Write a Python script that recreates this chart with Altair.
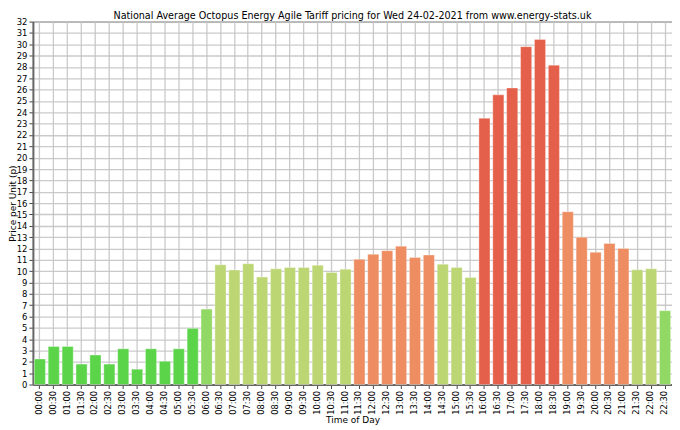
import altair as alt
import pandas as pd

times = ["00:00","00:30","01:00","01:30","02:00","02:30","03:00","03:30","04:00","04:30",
         "05:00","05:30","06:00","06:30","07:00","07:30","08:00","08:30","09:00","09:30",
         "10:00","10:30","11:00","11:30","12:00","12:30","13:00","13:30","14:00","14:30",
         "15:00","15:30","16:00","16:30","17:00","17:30","18:00","18:30","19:00","19:30",
         "20:00","20:30","21:00","21:30","22:00","22:30"]
prices = [2.25, 3.35, 3.35, 1.8, 2.6, 1.8, 3.15, 1.35, 3.15, 2.05,
          3.15, 4.95, 6.65, 10.55, 10.1, 10.65, 9.47, 10.2, 10.31, 10.31,
          10.52, 9.88, 10.17, 11.04, 11.48, 11.8, 12.2, 11.19, 11.42, 10.61,
          10.31, 9.44, 23.48, 25.54, 26.15, 29.79, 30.43, 28.16, 15.23, 12.99,
          11.66, 12.44, 12.0, 10.11, 10.2, 6.51]
title_text = "National Average Octopus Energy Agile Tariff pricing for Wed 24-02-2021 from www.energy-stats.uk"

band_limits = [5, 7, 11, 16]
band_colors = ["#5bd44a", "#91d964", "#bcd673", "#ee8d62", "#e5604a"]
y_ticks = list(range(0, 33))

df = pd.DataFrame({"time": times, "price": prices})

font = "DejaVu Sans"
title_font = "DejaVu Sans Condensed, DejaVu Sans"
W = 641
H = 364

bars = alt.Chart(df).mark_bar(strokeWidth=1, strokeOpacity=0.35, stroke="white").encode(
    x=alt.X("time:N", sort=None, title="Time of Day",
            scale=alt.Scale(paddingInner=0.2, paddingOuter=0.1),
            axis=alt.Axis(labelAngle=270, grid=True, labelFontSize=8.3, titleFontSize=9,
                          labelPadding=2, titleY=35, titleBaseline="middle")),
    y=alt.Y("price:Q", title="Price per Unit (p)",
            scale=alt.Scale(domain=[0, 32], nice=False),
            axis=alt.Axis(values=y_ticks, grid=True, labelFontSize=8.5, titleFontSize=9,
                          titleX=-20, titleY=H / 2, titleAngle=270,
                          titleBaseline="middle", titleAlign="center")),
    color=alt.Color("price:Q", legend=None,
                    scale=alt.Scale(type="threshold", domain=band_limits, range=band_colors)),
)

title = alt.Chart(pd.DataFrame({"t": [title_text]})).mark_text(
    font=title_font, fontSize=10.7, color="black", align="center", baseline="alphabetic"
).encode(
    text="t:N",
    x=alt.value(W / 2),
    y=alt.value(-3),
)

chart = alt.layer(bars, title).properties(
    width=W, height=H,
    autosize=alt.AutoSizeParams(type="none"),
    padding={"left": 25, "top": 13, "right": 0, "bottom": 45},
).configure_axis(
    labelFont=font, titleFont=font, labelColor="black", titleColor="black",
    titleFontWeight="normal",
    gridColor="#c4c4c4", gridOpacity=0.9, gridWidth=1.3,
    domainColor="#666666", domainWidth=2,
    tickColor="#444444", tickSize=4,
).configure_view(
    stroke="#555555", strokeWidth=1
)

chart.save("out.html", embed_options={"renderer": "svg", "actions": False})
